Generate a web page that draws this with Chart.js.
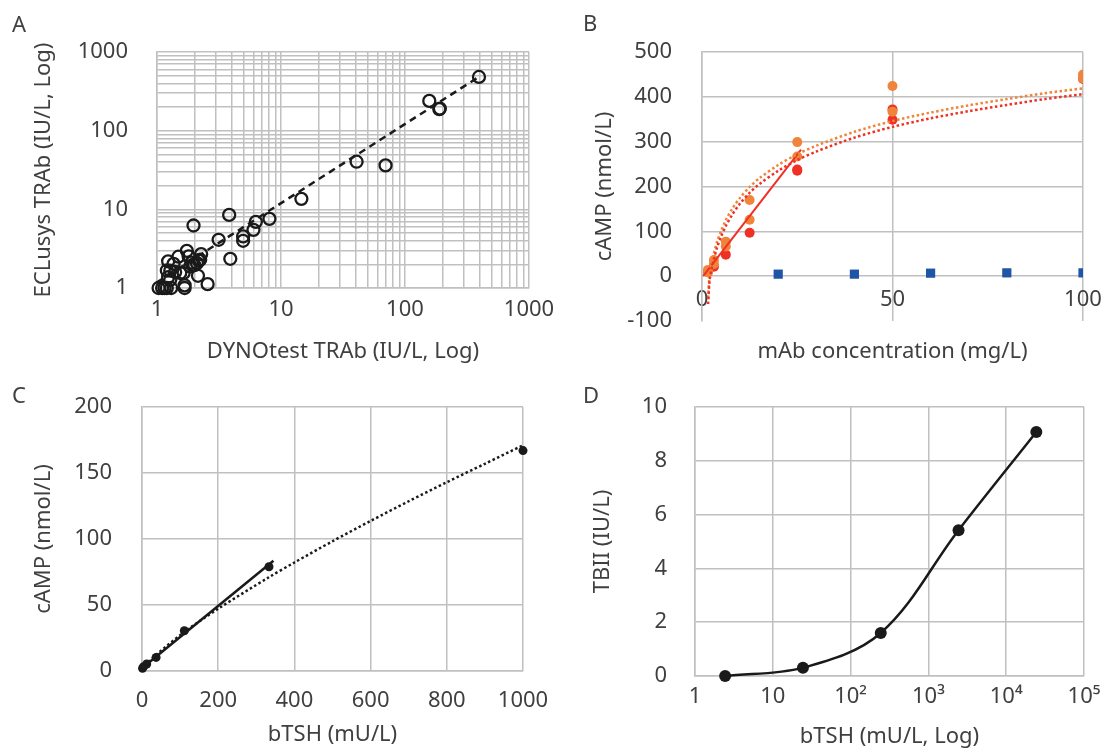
<!DOCTYPE html>
<html><head><meta charset="utf-8">
<script src="https://cdn.jsdelivr.net/npm/chart.js@4.4.1/dist/chart.umd.min.js"></script>
<style>
html,body{margin:0;padding:0;background:#fff;}
body{width:1104px;height:750px;position:relative;overflow:hidden;font-family:'Noto Sans','DejaVu Sans',sans-serif;}
canvas{position:absolute;}
.tag{position:absolute;font-size:22px;line-height:22px;color:#404040;}
</style></head><body>
<canvas id="cA" width="560" height="375" style="left:0;top:0"></canvas>
<canvas id="cB" width="544" height="375" style="left:560px;top:0"></canvas>
<canvas id="cC" width="560" height="375" style="left:0;top:375px"></canvas>
<canvas id="cD" width="544" height="375" style="left:560px;top:375px"></canvas>
<div class="tag" style="left:12px;top:12px">A</div>
<div class="tag" style="left:583px;top:11px">B</div>
<div class="tag" style="left:12px;top:383px">C</div>
<div class="tag" style="left:583px;top:383px">D</div>
<script>
// ---------- Panel A: ECLusys vs DYNOtest (log-log) ----------
const aDynotest = [395,157,191,189,40.7,69.7,14.6,8.07,6.27,6.0,3.82,4.95,4.95,3.14,3.9,1.97,2.56,2.14,2.27,2.23,1.74,1.8,1.49,1.23,1.36,1.2,1.28,1.85,1.97,2.1,2.16,1.54,1.64,1.4,1.28,1.67,1.67,1.03,1.1,1.15,1.2,1.3,2.0,1.9,1.23];
const aEclusys  = [482,239,191,188,40.3,36.2,13.6,7.57,6.93,5.49,8.5,4.52,3.98,4.1,2.35,6.23,1.12,1.43,2.7,2.29,2.97,2.52,2.5,2.18,2.03,1.67,1.66,1.88,1.98,2.07,2.24,1.55,1.55,1.6,1.27,1.08,1.0,1.0,1.0,1.0,1.0,1.0,1.95,2.1,1.37];
const aFitX = [1, 400];
const aFitY = [1.18, 490];
const aTickLabels = [1, 10, 100, 1000];

// ---------- Panel B: cAMP vs mAb concentration ----------
const bRedConc   = [1.5625,3.125,6.25,12.5,25,25,50,50,100];
const bRedCamp   = [10,21,48,97,235,238,372,349,440];
const bOrangeConc = [1.5625,1.5625,3.125,3.125,6.25,6.25,12.5,12.5,25,25,50,50,100,100];
const bOrangeCamp = [14,8,36,27,77,66,170,126,299,267,424,367,450,441];
const bBlueConc = [20,40,60,80,100];
const bBlueCamp = [4.5,4.5,6.7,7.4,7.4];
const bRedLinX = [0.3, 26];
const bRedLinY = [0, 282];
const bTrendX = [1.6,2,2.5,3,4,5,6.25,8,10,12.5,15,20,25,30,40,50,60,70,80,90,100];
const bOrangeTrendY = [-48,4,28,47,78,101,125,151,175,199,218,248,272,291,322,346,365,381,395,408,419];
const bRedTrendY    = [-62,-9,15,34,65,88,112,138,162,186,205,235,259,278,309,333,352,368,382,395,406];

// ---------- Panel C: cAMP vs bTSH ----------
const cTsh  = [1.37,4.12,12.35,37.04,111.1,333.3,1000];
const cCamp = [2,3.3,5.3,10.3,30.5,79,167];
const cLinX = [1.4, 345];
const cLinY = [2.5, 83.5];
const cPowX = [1.37,5,12.35,37,111,200,333,400,500,600,700,800,900,1000];
const cPowY = [0.9,2.5,5.1,12.2,29.5,47.2,71,82.2,98.3,113.7,128.6,143,157,171];

// ---------- Panel D: TBII vs bTSH (log) ----------
const dTsh  = [2.44,24.4,244,2440,24400];
const dTbii = [0,0.31,1.6,5.42,9.07];
const dTickValues = [1,10,100,1000,10000,100000];
const dTickLabels = ['1','10','10²','10³','10⁴','10⁵'];

// ---------- styling ----------
const gridCol = '#c0c0c0';
const txtCol = '#404040';
const ink = '#1a1a1a';
const cRed = '#ee3124';
const cOrange = '#f0843a';
const cBlue = '#1f55a6';
Chart.defaults.font.family = "'Noto Sans','DejaVu Sans',sans-serif";
Chart.defaults.font.size = 22;
Chart.defaults.color = txtCol;

const pts = (xs, ys) => xs.map((x, i) => ({x, y: ys[i]}));
const base = {responsive:false, animation:false, devicePixelRatio:1,
  plugins:{legend:{display:false}, tooltip:{enabled:false}}};
const grid = {color:gridCol, lineWidth:1.5, drawTicks:false};
const border = {color:gridCol, width:1.5};
const title = (t) => ({display:true, text:t, color:txtCol, padding:0, font:{size:22}});
const noPad = s => { s.paddingLeft = 0; s.paddingRight = 0; s.paddingTop = 0; s.paddingBottom = 0; };
const fixH = h => s => { s.height = h; noPad(s); };
const fixW = w => s => { s.width = w; noPad(s); };

// log minor tick positions for panel A
const aGrid = [];
[1,10,100].forEach(d => { for (let m = 1; m < 10; m++) aGrid.push(m * d); });
aGrid.push(1000);

new Chart(document.getElementById('cA'), {
  type:'scatter',
  data:{datasets:[
    {data:pts(aFitX, aFitY), showLine:true, borderColor:ink, borderWidth:2.5, borderDash:[7,5], pointRadius:0, clip:false},
    {data:pts(aDynotest, aEclusys), pointRadius:6, pointBorderWidth:2.3, borderColor:ink, backgroundColor:'rgba(0,0,0,0)', clip:false}
  ]},
  options:{...base, layout:{padding:{left:31,right:31,top:52,bottom:10}},
    scales:{
      x:{type:'logarithmic', min:1, max:1000, grid, border,
        afterBuildTicks:s=>{s.ticks = aGrid.map(v=>({value:v}));},
        afterFit:fixH(77),
        ticks:{autoSkip:false, maxRotation:0, padding:9, color:txtCol, callback:v=>aTickLabels.includes(v)?String(v):''},
        title:title('DYNOtest TRAb (IU/L, Log)')},
      y:{type:'logarithmic', min:1, max:1000, grid, border,
        afterBuildTicks:s=>{s.ticks = aGrid.map(v=>({value:v}));},
        afterFit:fixW(126),
        ticks:{autoSkip:false, padding:29, color:txtCol, callback:v=>aTickLabels.includes(v)?String(v):''},
        title:title('ECLusys TRAb (IU/L, Log)')}
    }}
});

new Chart(document.getElementById('cB'), {
  type:'scatter',
  data:{datasets:[
    {data:pts(bTrendX, bRedTrendY), showLine:true, borderColor:cRed, borderWidth:2.5, borderDash:[2.5,2.5], pointRadius:0, tension:0.3, clip:false},
    {data:pts(bTrendX, bOrangeTrendY), showLine:true, borderColor:cOrange, borderWidth:2.5, borderDash:[2.5,2.5], pointRadius:0, tension:0.3, clip:false},
    {data:pts(bRedLinX, bRedLinY), showLine:true, borderColor:cRed, borderWidth:2, pointRadius:0},
    {data:pts(bOrangeConc, bOrangeCamp), pointRadius:5, borderWidth:0, backgroundColor:cOrange, borderColor:cOrange},
    {data:pts(bRedConc, bRedCamp), pointRadius:5, borderWidth:0, backgroundColor:cRed, borderColor:cRed},
    {data:pts(bBlueConc, bBlueCamp), pointStyle:'rect', pointRadius:6.5, borderWidth:0, backgroundColor:cBlue, borderColor:cBlue}
  ]},
  options:{...base, layout:{padding:{left:32,right:21,top:52,bottom:10}},
    scales:{
      x:{type:'linear', min:0, max:100, position:{y:0}, grid, border:{display:false},
        afterFit:noPad,
        ticks:{stepSize:50, maxRotation:0, padding:10, color:txtCol}},
      xt:{type:'linear', axis:'x', position:'bottom', min:0, max:1, grid:{display:false}, border:{display:false},
        ticks:{display:false}, afterFit:fixH(44),
        title:title('mAb concentration (mg/L)')},
      y:{type:'linear', min:-100, max:500, border,
        grid:{...grid, color:ctx=>(ctx.tick && ctx.tick.value === -100) ? 'rgba(0,0,0,0)' : gridCol},
        afterFit:fixW(110),
        ticks:{stepSize:100, padding:30, color:txtCol},
        title:title('cAMP (nmol/L)')}
    }}
});

new Chart(document.getElementById('cC'), {
  type:'scatter',
  data:{datasets:[
    {data:pts(cPowX, cPowY), showLine:true, borderColor:ink, borderWidth:2.5, borderDash:[2.5,2.5], pointRadius:0, tension:0.3, clip:false},
    {data:pts(cLinX, cLinY), showLine:true, borderColor:ink, borderWidth:2.5, pointRadius:0, clip:false},
    {data:pts(cTsh, cCamp), pointRadius:4.5, borderWidth:0, backgroundColor:ink, borderColor:ink, clip:false}
  ]},
  options:{...base, layout:{padding:{left:31,right:37,top:32,bottom:2}},
    scales:{
      x:{type:'linear', min:0, max:1000, grid, border,
        afterFit:fixH(77),
        ticks:{stepSize:200, maxRotation:0, padding:17, color:txtCol, callback:v=>String(v)},
        title:title('bTSH (mU/L)')},
      y:{type:'linear', min:0, max:200, grid, border,
        afterFit:fixW(111),
        ticks:{stepSize:50, padding:30, color:txtCol},
        title:title('cAMP (nmol/L)')}
    }}
});

new Chart(document.getElementById('cD'), {
  type:'scatter',
  data:{datasets:[
    {data:pts(dTsh, dTbii), showLine:true, borderColor:ink, borderWidth:2.5, tension:0.35, pointRadius:6, pointBorderWidth:0, backgroundColor:ink, pointBackgroundColor:ink, clip:false}
  ]},
  options:{...base, layout:{padding:{left:30,right:20,top:32,bottom:0}},
    scales:{
      x:{type:'logarithmic', min:1, max:100000, grid, border,
        afterBuildTicks:s=>{s.ticks = dTickValues.map(v=>({value:v}));},
        afterFit:fixH(74),
        ticks:{autoSkip:false, maxRotation:0, padding:8, color:txtCol, callback:v=>{const i = dTickValues.indexOf(v); return i >= 0 ? dTickLabels[i] : '';}},
        title:title('bTSH (mU/L, Log)')},
      y:{type:'linear', min:0, max:10, grid, border,
        afterFit:fixW(105),
        ticks:{stepSize:2, padding:28, color:txtCol},
        title:title('TBII (IU/L)')}
    }}
});
</script>
</body></html>
